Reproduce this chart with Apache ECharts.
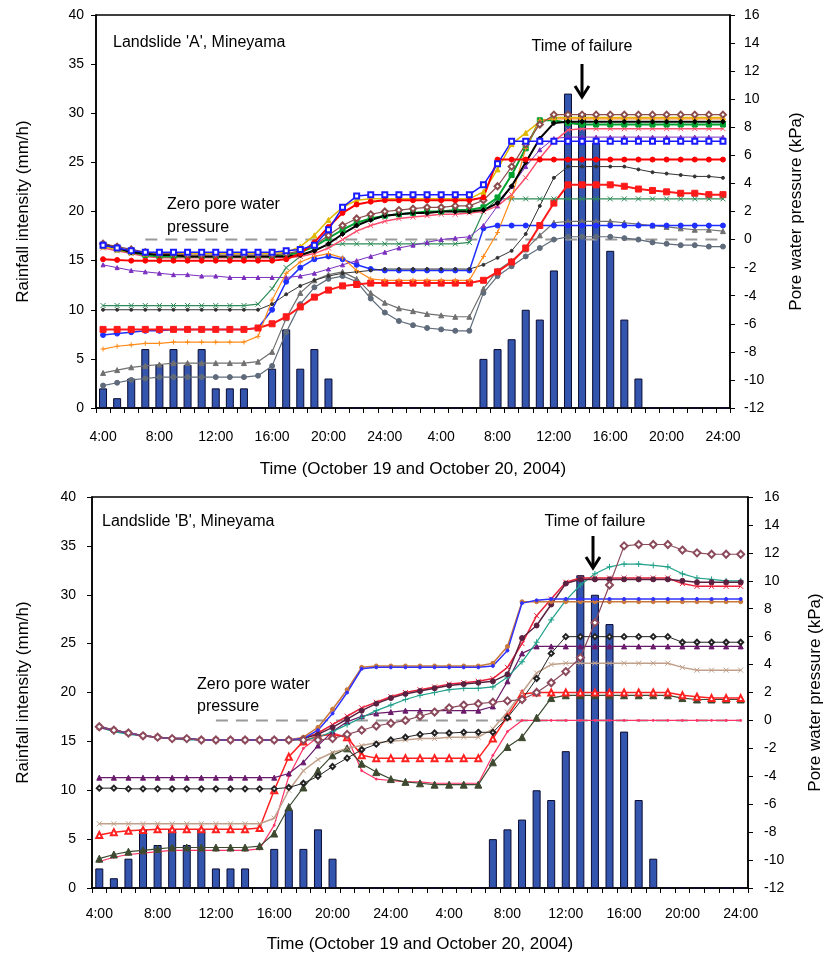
<!DOCTYPE html>
<html><head><meta charset="utf-8">
<script src="https://cdn.jsdelivr.net/npm/echarts/dist/echarts.min.js"></script>
<style>html,body{margin:0;padding:0;background:#fff}#c{width:825px;height:960px}</style>
</head><body><div id="c"></div><script>
// ---- categories (hourly, 4:00 Oct 19 .. 24:00 Oct 20)
const hours = ["4:00","5:00","6:00","7:00","8:00","9:00","10:00","11:00","12:00","13:00",
"14:00","15:00","16:00","17:00","18:00","19:00","20:00","21:00","22:00","23:00",
"24:00","1:00","2:00","3:00","4:00","5:00","6:00","7:00","8:00","9:00",
"10:00","11:00","12:00","13:00","14:00","15:00","16:00","17:00","18:00","19:00",
"20:00","21:00","22:00","23:00","24:00"];
const rainTicks = [0,5,10,15,20,25,30,35,40];
const kpaTicks = [-12,-10,-8,-6,-4,-2,0,2,4,6,8,10,12,14,16];
// ---- rainfall (mm/h), same for both landslides
const rainfall = [2,1,3,6,4.4,6,4.4,6,2,2,
2,0,4,8,4,6,3,0,0,0,
0,0,0,0,0,0,0,5,6,7,
10,9,14,32,30,27,16,9,3,0,
0,0,0,0,0];
// ---- Landslide A pore water pressure (kPa)
const A_blueSq = [-0.4,-0.6,-0.8,-0.9,-0.9,-0.9,-0.9,-0.9,-0.9,-0.9,
-0.9,-0.9,-0.9,-0.8,-0.7,-0.4,0.7,2.3,3.1,3.2,
3.2,3.2,3.2,3.2,3.2,3.2,3.2,3.9,5.4,7.0,
7.0,7.0,7.0,7.0,7.0,7.0,7.0,7.0,7.0,7.0,
7.0,7.0,7.0,7.0,7.0];
const A_red = [-1.4,-1.45,-1.5,-1.5,-1.5,-1.5,-1.5,-1.5,-1.5,-1.5,
-1.5,-1.5,-1.5,-1.4,-1.0,-0.2,0.9,1.9,2.5,2.7,
2.8,2.8,2.8,2.8,2.8,2.8,2.8,3.0,5.7,5.7,
5.7,5.7,5.7,5.7,5.7,5.7,5.7,5.7,5.7,5.7,
5.7,5.7,5.7,5.7,5.7];
const A_orange = [-7.8,-7.6,-7.5,-7.4,-7.4,-7.3,-7.3,-7.3,-7.3,-7.3,
-7.3,-6.9,-4.3,-2.4,-1.6,-1.2,-1.0,-1.3,-2.2,-2.8,
-2.9,-2.9,-2.9,-2.9,-2.9,-2.9,-2.9,-1.2,0.5,3.0,
6.5,8.5,8.6,8.6,8.6,8.6,8.6,8.6,8.6,8.6,
8.6,8.6,8.6,8.6,8.6];
const A_black = [-0.3,-0.6,-0.9,-1.0,-1.1,-1.1,-1.2,-1.2,-1.2,-1.2,
-1.2,-1.2,-1.2,-1.2,-1.1,-0.8,-0.3,0.4,1.0,1.4,
1.7,1.8,1.9,1.9,2.0,2.0,2.0,2.1,2.6,3.8,
5.5,7.2,8.3,8.4,8.4,8.4,8.4,8.4,8.4,8.4,
8.4,8.4,8.4,8.4,8.4];
const A_brownDiam = [-0.3,-0.5,-0.7,-0.9,-1.0,-1.0,-1.1,-1.1,-1.1,-1.1,
-1.1,-1.1,-1.1,-1.0,-0.8,-0.4,0.3,1.0,1.5,1.8,
2.0,2.1,2.2,2.3,2.3,2.4,2.4,2.8,3.8,5.2,
6.8,8.2,8.9,8.9,8.9,8.9,8.9,8.9,8.9,8.9,
8.9,8.9,8.9,8.9,8.9];
const A_yellow = [-0.5,-0.7,-0.9,-1.0,-1.0,-1.0,-1.0,-1.0,-1.0,-1.0,
-1.0,-1.0,-1.0,-0.9,-0.5,0.3,1.4,2.3,2.8,2.9,
2.9,2.9,2.9,2.9,2.9,2.9,2.9,3.4,5.0,6.8,
7.6,8.4,8.7,8.7,8.7,8.7,8.7,8.7,8.7,8.7,
8.7,8.7,8.7,8.7,8.7];
const A_green = [-0.4,-0.7,-0.9,-1.1,-1.2,-1.2,-1.2,-1.2,-1.2,-1.2,
-1.2,-1.2,-1.2,-1.1,-0.9,-0.5,0.1,0.7,1.2,1.5,
1.7,1.8,1.9,2.0,2.0,2.1,2.1,2.3,3.0,4.6,
6.5,8.5,8.5,8.3,8.2,8.2,8.2,8.2,8.2,8.2,
8.2,8.2,8.2,8.2,8.2];
const A_pink = [-0.6,-0.8,-1.0,-1.2,-1.3,-1.3,-1.3,-1.3,-1.3,-1.3,
-1.3,-1.3,-1.3,-1.3,-1.2,-1.0,-0.6,0.0,0.6,1.0,
1.3,1.5,1.6,1.7,1.8,1.8,1.9,2.0,2.4,3.2,
4.4,5.8,7.0,7.8,7.9,7.9,7.9,7.9,7.9,7.9,
7.9,7.9,7.9,7.9,7.9];
const A_purple = [-1.8,-2.0,-2.2,-2.3,-2.4,-2.5,-2.5,-2.6,-2.6,-2.7,
-2.7,-2.7,-2.7,-2.7,-2.6,-2.4,-2.1,-1.8,-1.5,-1.2,
-0.9,-0.6,-0.4,-0.2,0.0,0.1,0.2,1.0,2.4,3.8,
5.2,6.4,7.2,7.3,7.3,7.3,7.3,7.3,7.3,7.3,
7.3,7.3,7.3,7.3,7.3];
const A_greenX = [-4.7,-4.7,-4.7,-4.7,-4.7,-4.7,-4.7,-4.7,-4.7,-4.7,
-4.7,-4.6,-3.5,-2.0,-1.2,-0.7,-0.4,-0.3,-0.3,-0.3,
-0.3,-0.3,-0.3,-0.3,-0.3,-0.3,-0.2,2.0,2.9,2.9,
2.9,2.9,2.9,2.9,2.9,2.9,2.9,2.9,2.9,2.9,
2.9,2.9,2.9,2.9,2.9];
const A_blackSm = [-5.0,-5.0,-5.0,-5.0,-5.0,-5.0,-5.0,-5.0,-5.0,-5.0,
-5.0,-5.0,-4.6,-3.9,-3.3,-2.9,-2.6,-2.4,-2.3,-2.2,
-2.1,-2.1,-2.1,-2.1,-2.1,-2.1,-2.1,-1.8,-1.3,-0.8,
0.4,2.4,4.4,5.2,5.2,5.2,5.2,5.2,5.0,4.8,
4.7,4.6,4.5,4.5,4.4];
const A_redSq = [-6.4,-6.4,-6.4,-6.4,-6.4,-6.4,-6.4,-6.4,-6.4,-6.4,
-6.4,-6.3,-6.0,-5.5,-4.8,-4.1,-3.6,-3.3,-3.2,-3.1,
-3.1,-3.1,-3.1,-3.1,-3.1,-3.1,-3.1,-2.9,-2.3,-1.6,
-0.6,1.0,2.6,3.9,3.9,3.9,3.9,3.8,3.6,3.5,
3.4,3.3,3.3,3.2,3.2];
const A_blueCirc = [-6.8,-6.7,-6.6,-6.5,-6.5,-6.4,-6.4,-6.4,-6.4,-6.4,
-6.4,-6.3,-5.0,-3.0,-2.0,-1.4,-1.2,-1.4,-1.8,-2.1,
-2.2,-2.2,-2.2,-2.2,-2.2,-2.2,-2.2,0.8,1.0,1.0,
1.0,1.0,1.0,1.0,1.0,1.0,1.0,1.0,1.0,1.0,
1.0,1.0,1.0,1.0,1.0];
const A_grayTri = [-9.5,-9.3,-9.1,-9.0,-8.9,-8.8,-8.8,-8.8,-8.8,-8.8,
-8.8,-8.7,-8.0,-5.6,-3.8,-2.9,-2.5,-2.3,-2.8,-3.8,
-4.5,-4.9,-5.1,-5.3,-5.4,-5.5,-5.5,-3.5,-2.2,-1.5,
-0.7,0.3,1.2,1.3,1.3,1.3,1.3,1.2,1.1,1.0,
0.9,0.8,0.7,0.7,0.6];
const A_grayCirc = [-10.4,-10.2,-10.0,-9.9,-9.8,-9.8,-9.8,-9.8,-9.8,-9.8,
-9.8,-9.7,-9.0,-6.6,-4.6,-3.4,-2.8,-2.6,-3.0,-4.2,
-5.2,-5.8,-6.1,-6.3,-6.4,-6.5,-6.5,-3.8,-2.6,-1.9,
-1.2,-0.6,0.0,0.2,0.2,0.2,0.2,0.1,0.0,-0.2,
-0.3,-0.4,-0.4,-0.5,-0.5];
const A_zero = [null,null,null,0,0,0,0,0,0,0,
0,0,0,0,0,0,0,0,0,0,
0,0,0,0,0,0,0,0,0,0,
0,0,0,0,0,0,0,0,0,0,
0,0,0,0,0];
// ---- Landslide B pore water pressure (kPa)
const B_maroonDiam = [-0.45,-0.7,-0.9,-1.1,-1.2,-1.3,-1.3,-1.4,-1.4,-1.4,
-1.4,-1.4,-1.4,-1.4,-1.4,-1.4,-1.3,-1.0,-0.7,-0.4,
-0.2,0.0,0.3,0.6,0.9,1.1,1.2,1.3,1.4,1.5,
2.0,2.7,3.5,4.5,7.0,9.7,12.5,12.6,12.6,12.6,
12.2,12.0,11.9,11.9,11.9];
const B_blue = [-0.45,-0.7,-0.9,-1.1,-1.2,-1.3,-1.3,-1.4,-1.4,-1.4,
-1.4,-1.4,-1.4,-1.4,-1.3,-0.7,0.5,2.0,3.7,3.8,
3.8,3.8,3.8,3.8,3.8,3.8,3.8,3.9,5.0,8.4,
8.6,8.7,8.7,8.7,8.7,8.7,8.7,8.7,8.7,8.7,
8.7,8.7,8.7,8.7,8.7];
const B_orange = [-0.4,-0.7,-0.9,-1.1,-1.2,-1.3,-1.3,-1.4,-1.4,-1.4,
-1.4,-1.4,-1.4,-1.4,-1.2,-0.5,0.8,2.2,3.8,3.9,
3.9,3.9,3.9,3.9,3.9,3.9,3.9,4.1,5.3,8.5,
8.5,8.5,8.5,8.5,8.5,8.5,8.5,8.5,8.5,8.5,
8.5,8.5,8.5,8.5,8.5];
const B_plum = [-0.45,-0.7,-0.9,-1.1,-1.2,-1.3,-1.3,-1.4,-1.4,-1.4,
-1.4,-1.4,-1.4,-1.4,-1.3,-1.0,-0.5,0.1,0.7,1.2,
1.6,1.9,2.1,2.3,2.5,2.6,2.7,2.8,3.3,5.9,
6.8,8.3,9.8,10.1,10.1,10.1,10.1,10.1,10.1,10.1,
10.0,9.9,9.9,9.9,9.9];
const B_redX = [-0.5,-0.7,-0.9,-1.1,-1.2,-1.3,-1.3,-1.4,-1.4,-1.4,
-1.4,-1.4,-1.4,-1.4,-1.3,-0.9,-0.3,0.3,0.9,1.3,
1.7,2.0,2.2,2.4,2.6,2.7,2.8,3.0,3.8,5.5,
7.5,8.7,9.9,10.2,10.2,10.2,10.2,10.2,10.2,10.2,
9.8,9.6,9.6,9.6,9.6];
const B_teal = [-0.5,-0.8,-1.0,-1.1,-1.2,-1.3,-1.4,-1.4,-1.4,-1.4,
-1.4,-1.4,-1.4,-1.4,-1.4,-1.2,-0.8,-0.3,0.2,0.7,
1.1,1.5,1.8,2.0,2.2,2.3,2.3,2.4,3.1,4.2,
5.6,7.2,8.6,9.7,10.5,11.0,11.2,11.2,11.1,11.0,
10.5,10.2,10.1,10.0,10.0];
const B_blackCirc = [-4.85,-4.85,-4.9,-4.9,-4.9,-4.9,-4.9,-4.9,-4.9,-4.9,
-4.9,-4.9,-4.9,-4.8,-4.5,-4.0,-3.3,-2.7,-2.1,-1.7,
-1.4,-1.2,-1.0,-0.9,-0.9,-0.85,-0.85,-0.85,0.2,1.5,
3.0,4.8,6.0,6.0,6.0,6.0,6.0,6.0,6.0,6.0,
5.6,5.6,5.6,5.6,5.6];
const B_purple = [-4.1,-4.1,-4.1,-4.1,-4.1,-4.1,-4.1,-4.1,-4.1,-4.1,
-4.1,-4.1,-4.1,-3.8,-3.0,-1.8,-0.8,-0.1,0.3,0.5,
0.6,0.7,0.7,0.7,0.7,0.7,0.7,1.0,2.8,4.8,
5.3,5.3,5.3,5.3,5.3,5.3,5.3,5.3,5.3,5.3,
5.3,5.3,5.3,5.3,5.3];
const B_tan = [-7.4,-7.4,-7.4,-7.4,-7.4,-7.4,-7.4,-7.4,-7.4,-7.4,
-7.4,-7.4,-7.0,-5.0,-3.6,-2.8,-2.3,-2.0,-1.8,-1.6,
-1.5,-1.4,-1.3,-1.3,-1.2,-1.2,-1.2,-0.6,0.6,2.0,
3.4,4.0,4.1,4.1,4.1,4.1,4.1,4.1,4.1,4.1,
3.8,3.6,3.6,3.6,3.6];
const B_redTri = [-8.2,-8.0,-7.9,-7.85,-7.8,-7.8,-7.8,-7.8,-7.8,-7.8,
-7.8,-7.7,-5.0,-2.6,-1.5,-1.1,-1.0,-1.2,-2.5,-2.7,
-2.7,-2.7,-2.7,-2.7,-2.7,-2.7,-2.7,-1.3,0.3,1.9,
2.0,2.0,2.0,2.0,2.0,2.0,2.0,2.0,2.0,2.0,
1.8,1.7,1.6,1.6,1.6];
const B_olive = [-9.9,-9.6,-9.4,-9.3,-9.2,-9.1,-9.1,-9.1,-9.1,-9.1,
-9.1,-9.0,-8.1,-6.2,-4.8,-3.6,-2.5,-2.0,-3.1,-3.7,
-4.2,-4.4,-4.5,-4.6,-4.6,-4.6,-4.6,-3.0,-1.9,-1.2,
0.2,1.6,1.8,1.8,1.8,1.8,1.8,1.8,1.8,1.8,
1.6,1.5,1.5,1.5,1.5];
const B_pink = [-10.1,-9.8,-9.6,-9.5,-9.4,-9.3,-9.3,-9.3,-9.3,-9.3,
-9.3,-9.2,-7.5,-4.0,-2.0,-1.2,-0.9,-1.2,-3.6,-4.2,
-4.3,-4.4,-4.4,-4.5,-4.5,-4.5,-4.5,-2.5,-0.8,0.0,
0.0,0.0,0.0,0.0,0.0,0.0,0.0,0.0,0.0,0.0,
0.0,0.0,0.0,0.0,0.0];
const B_zero = [null,null,null,null,null,null,null,null,0,0,
0,0,0,0,0,0,0,0,0,0,
0,0,0,0,0,0,0,0,0,0,
0,0,0,0,0,0,0,0,0,0,
0,0,0,0,0];

const FONT = "'Liberation Sans', Arial, sans-serif";
const XS = 'path://M0,0L10,10M10,0L0,10';
const PLUS = 'path://M5,0L5,10M0,5L10,5';

function ln(data, color, symbol, size, width, g, z) {
  return {type:'line', xAxisIndex:g, yAxisIndex:g*2+1, data:data, symbol:symbol, symbolSize:size,
    showSymbol:true, connectNulls:false, lineStyle:{color:color, width:width},
    itemStyle:{color:color, borderColor:color, borderWidth:1}, z:z||3, animation:false};
}
function zeroLn(data, g) {
  return {type:'line', xAxisIndex:g, yAxisIndex:g*2+1, data:data, symbol:'none',
    lineStyle:{color:'#9a9a9a', width:2, type:[12,8]}, z:2, animation:false};
}
function bars(g) {
  return {type:'bar', xAxisIndex:g, yAxisIndex:g*2, data:rainfall, barWidth:8,
    itemStyle:{color:'#3355ad', borderColor:'#0a0a30', borderWidth:1}, z:2, animation:false};
}
function xAx(g, labelMargin, nameGap) {
  return {type:'category', gridIndex:g, data:hours, boundaryGap:true,
    axisLine:{show:true, lineStyle:{color:'#000', width:1.5}},
    axisTick:{show:true, interval:0, length:5, inside:false, lineStyle:{color:'#000'}},
    axisLabel:{interval:3, color:'#000', fontSize:14, margin:labelMargin, fontFamily:FONT},
    splitLine:{show:false},
    name:'Time (October 19 and October 20, 2004)', nameLocation:'middle', nameGap:nameGap,
    nameTextStyle:{fontSize:17, color:'#000', fontFamily:FONT}};
}
function yLeft(g, margin, nameGap) {
  return {type:'value', gridIndex:g, min:rainTicks[0], max:rainTicks[rainTicks.length-1], interval:5, position:'left',
    axisLine:{show:true, lineStyle:{color:'#000', width:1.5}},
    axisTick:{show:true, length:5, lineStyle:{color:'#000'}},
    axisLabel:{color:'#000', fontSize:14, margin:margin, fontFamily:FONT},
    splitLine:{show:false},
    name:'Rainfall intensity (mm/h)', nameLocation:'middle', nameGap:nameGap, nameRotate:90,
    nameTextStyle:{fontSize:17, color:'#000', fontFamily:FONT}};
}
function yRight(g, margin, nameGap) {
  return {type:'value', gridIndex:g, min:kpaTicks[0], max:kpaTicks[kpaTicks.length-1], interval:2, position:'right',
    axisLine:{show:true, lineStyle:{color:'#000', width:1.5}},
    axisTick:{show:true, length:5, lineStyle:{color:'#000'}},
    axisLabel:{color:'#000', fontSize:14, margin:margin, fontFamily:FONT},
    splitLine:{show:false},
    name:'Pore water pressure (kPa)', nameLocation:'middle', nameGap:nameGap, nameRotate:90,
    nameTextStyle:{fontSize:17, color:'#000', fontFamily:FONT}};
}
function seriesA() {
  const g = 0;
  return [bars(g), zeroLn(A_zero, g),
    ln(A_grayCirc,'#5f6b7a','circle',5,1.2,g),
    ln(A_grayTri,'#707070','triangle',5,1.2,g),
    ln(A_blueCirc,'#1f2fff','circle',5,1.5,g),
    ln(A_redSq,'#ff1a1a','rect',6,2,g),
    ln(A_blackSm,'#333333','circle',3,1,g),
    ln(A_greenX,'#2e8b57',XS,5,1.2,g),
    ln(A_purple,'#7b2fbf','triangle',4,1,g),
    ln(A_pink,'#ff4d6d',XS,5,1.5,g),
    ln(A_green,'#00a030','rect',5,2,g),
    ln(A_yellow,'#e0b800','triangle',5,1.5,g),
    ln(A_orange,'#ff8c1a',PLUS,5,1.2,g),
    ln(A_black,'#000000','diamond',5,2,g),
    ln(A_brownDiam,'#8b4c4c','emptyDiamond',6,1.2,g),
    ln(A_red,'#ff0000','circle',5,2,g),
    ln(A_blueSq,'#1a1aff','emptyRect',5,1.5,g)];
}
function seriesB() {
  const g = 1;
  return [bars(g), zeroLn(B_zero, g),
    ln(B_pink,'#ff3366','circle',2,1.2,g),
    ln(B_olive,'#3d4a30','triangle',7,1.2,g),
    ln(B_redTri,'#ff2020','emptyTriangle',6,1.5,g),
    ln(B_tan,'#c0a08a',XS,5,1.5,g),
    ln(B_purple,'#6a1a6a','triangle',5,1.2,g),
    ln(B_blackCirc,'#222222','emptyDiamond',5,1,g),
    ln(B_teal,'#1fa08a',PLUS,6,1.2,g),
    ln(B_redX,'#e8203a',XS,5,1.5,g),
    ln(B_plum,'#5a2040','circle',5,1.5,g),
    ln(B_orange,'#c8783a','circle',4,1.5,g),
    ln(B_blue,'#3030ff','circle',3,1.5,g),
    ln(B_maroonDiam,'#8b4a5c','emptyDiamond',7,1.2,g)];
}
function txt(x, y, s, align) {
  return {type:'text', x:x, y:y, style:{text:s, fill:'#000', font:'16px ' + FONT,
    textAlign:align||'left', textVerticalAlign:'middle'}, z:100};
}
function arrow(x, y1, y2) {
  return {type:'group', children:[
    {type:'line', shape:{x1:x, y1:y1, x2:x, y2:y2-2}, style:{stroke:'#000', lineWidth:3}},
    {type:'polyline', shape:{points:[[x-7,y2-11],[x,y2],[x+7,y2-11]]}, style:{stroke:'#000', lineWidth:3, fill:null}}
  ], z:100};
}
const chart = echarts.init(document.getElementById('c'), null, {renderer:'canvas'});
chart.setOption({
  animation:false,
  backgroundColor:'#ffffff',
  grid:[
    {left:96, top:15, width:634, height:393, show:true, borderColor:'#000', borderWidth:1.5, backgroundColor:'transparent', containLabel:false, outerBoundsMode:'none'},
    {left:92, top:497, width:656, height:391, show:true, borderColor:'#000', borderWidth:1.5, backgroundColor:'transparent', containLabel:false, outerBoundsMode:'none'}
  ],
  xAxis:[xAx(0, 22, 53), xAx(1, 19, 48)],
  yAxis:[yLeft(0, 12, 64), yRight(0, 14, 58), yLeft(1, 16, 60), yRight(1, 16, 59)],
  series: seriesA().concat(seriesB()),
  graphic:[
    txt(113, 43, "Landslide 'A', Mineyama"),
    txt(582, 47, 'Time of failure', 'center'),
    arrow(582, 64, 97),
    txt(167, 205, 'Zero pore water'),
    txt(167, 228, 'pressure'),
    txt(102, 522, "Landslide 'B', Mineyama"),
    txt(595, 522, 'Time of failure', 'center'),
    arrow(593, 536, 568),
    txt(197, 685, 'Zero pore water'),
    txt(197, 707, 'pressure')
  ]
});
</script></body></html>
